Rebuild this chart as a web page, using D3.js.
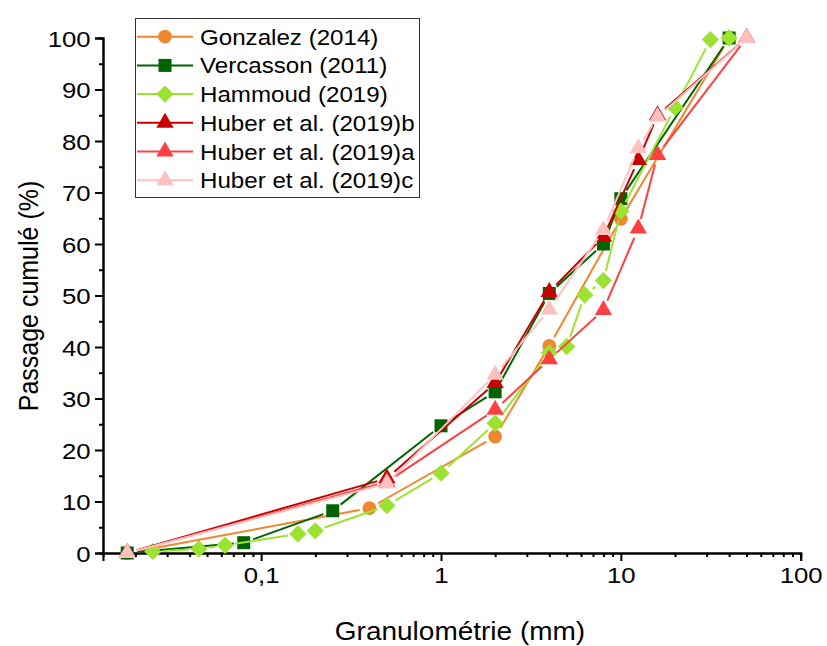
<!DOCTYPE html>
<html>
<head>
<meta charset="utf-8">
<script src="https://cdn.jsdelivr.net/npm/d3@7"></script>
<style>
  html, body { margin: 0; padding: 0; background: #fff; }
  svg { display: block; font-family: "Liberation Sans", Arial, sans-serif; }
</style>
</head>
<body>
<svg id="chart" width="827" height="646"></svg>
<script>
// ---------- data ----------
const seriesNames = ["Gonzalez (2014)", "Vercasson (2011)", "Hammoud (2019)",
  "Huber et al. (2019)b", "Huber et al. (2019)a", "Huber et al. (2019)c"];

const gonzalezX = [0.018, 0.4, 2, 4, 10, 40];
const gonzalezY = [0, 8.7, 22.6, 40.2, 64.9, 100];

const vercassonX = [0.018, 0.08, 0.25, 1, 2, 4, 8, 10, 40];
const vercassonY = [0, 2.0, 8.2, 24.7, 31.3, 50.4, 60.0, 68.8, 100];

const hammoudX = [0.025, 0.045, 0.063, 0.16, 0.2, 0.5, 1, 2, 4, 5, 6.3, 8, 10, 20, 31.5, 40];
const hammoudY = [0.3, 0.8, 1.5, 3.7, 4.3, 9.2, 15.5, 25.2, 38.9, 40.1, 50.1, 52.9, 66.4, 86.5, 99.7, 100];

const huberBX = [0.018, 0.5, 2, 4, 8, 12.5, 16, 50];
const huberBY = [0, 14.5, 33.0, 50.7, 61.4, 76.3, 85.0, 100];

const huberAX = [0.018, 0.5, 2, 4, 8, 12.5, 16, 50];
const huberAY = [0, 13.8, 27.8, 37.6, 47.2, 63.0, 77.3, 100];

const huberCX = [0.018, 0.5, 2, 4, 8, 12.5, 16, 50];
const huberCY = [0, 13.5, 34.6, 47.3, 62.7, 78.6, 84.7, 100];

const seriesColors = ["#F0862E", "#006400", "#9CE331", "#C80000", "#FF4040", "#FFC0C0"];
const seriesSymbols = ["circle", "square", "diamond", "triangle", "triangle", "triangle"];

const xTickValues = [0.1, 1, 10, 100];
const xTickLabels = ["0,1", "1", "10", "100"];
const yTickValues = [0, 10, 20, 30, 40, 50, 60, 70, 80, 90, 100];
const yMinorValues = [5, 15, 25, 35, 45, 55, 65, 75, 85, 95];

const xTitle = "Granulométrie (mm)";
const yTitle = "Passage cumulé (%)";

// ---------- build ----------
const seriesX = [gonzalezX, vercassonX, hammoudX, huberBX, huberAX, huberCX];
const seriesY = [gonzalezY, vercassonY, hammoudY, huberBY, huberAY, huberCY];
const series = seriesNames.map((name, i) => ({
  name, color: seriesColors[i], symbol: seriesSymbols[i],
  points: seriesX[i].map((x, j) => ({ x, y: seriesY[i][j] }))
}));

const svg = d3.select("#chart");
const mLeft = 103, mRight = 800.7, mTop = 38, mBottom = 553;
const SX = 1.12; // horizontal text stretch

const x = d3.scaleLog().domain([0.0132, 100]).range([mLeft, mRight]);
const y = d3.scaleLinear().domain([0, 100]).range([mBottom, mTop]);

// axes
const xMinor = x.ticks().filter(v => !xTickValues.some(t => Math.abs(t - v) / t < 1e-6));
const gx = svg.append("g").attr("transform", `translate(0,${mBottom})`);
gx.call(d3.axisBottom(x).tickValues(xMinor).tickSize(4).tickFormat(""));
gx.append("g").call(d3.axisBottom(x).tickValues(xTickValues).tickSize(8)
  .tickFormat((d, i) => xTickLabels[i]));
gx.selectAll("path.domain").attr("stroke", "#000").attr("stroke-width", 2);
gx.selectAll(".tick line").attr("stroke", "#000").attr("stroke-width", 2);
gx.selectAll(".tick text").attr("fill", "#000").attr("font-size", 23)
  .attr("font-family", "Liberation Sans, Arial, sans-serif")
  .attr("y", 14).attr("transform", `scale(${SX},1)`);

const gy = svg.append("g").attr("transform", `translate(${mLeft},0)`);
gy.call(d3.axisLeft(y).tickValues(yMinorValues).tickSize(4).tickFormat(""));
gy.append("g").call(d3.axisLeft(y).tickValues(yTickValues).tickSize(8).tickFormat(d3.format("d")));
gy.selectAll("path.domain").attr("stroke", "#000").attr("stroke-width", 2);
gy.selectAll(".tick line").attr("stroke", "#000").attr("stroke-width", 2);
gy.selectAll(".tick text").attr("fill", "#000").attr("font-size", 23)
  .attr("font-family", "Liberation Sans, Arial, sans-serif")
  .attr("x", -11).attr("dy", "0.35em").attr("transform", `scale(${SX},1)`);

// titles
svg.append("text").attr("transform", `translate(460,640) scale(${SX},1)`)
  .attr("text-anchor", "middle").attr("font-size", 25).text(xTitle);
svg.append("text").attr("transform", `translate(38,296) rotate(-90) scale(1,${SX})`)
  .attr("text-anchor", "middle").attr("font-size", 25).text(yTitle);

// symbols
function symbolPath(kind) {
  if (kind === "circle") return d3.symbol(d3.symbolCircle, 150)();
  if (kind === "square") return d3.symbol(d3.symbolSquare, 169)();
  if (kind === "diamond") return d3.symbol(d3.symbolSquare, 150)();
  return d3.symbol(d3.symbolTriangle, 130)();
}
function symbolRot(kind) { return kind === "diamond" ? " rotate(45)" : ""; }

const gap = 10;
const plot = svg.append("g");
series.forEach(s => {
  const g = plot.append("g");
  const pts = s.points.map(p => [x(p.x), y(p.y)]);
  for (let i = 0; i < pts.length - 1; i++) {
    const [x0, y0] = pts[i], [x1, y1] = pts[i + 1];
    const dx = x1 - x0, dy = y1 - y0, d = Math.hypot(dx, dy);
    if (d <= 2 * gap) continue;
    const ux = dx / d, uy = dy / d;
    g.append("line")
      .attr("x1", x0 + ux * gap).attr("y1", y0 + uy * gap)
      .attr("x2", x1 - ux * gap).attr("y2", y1 - uy * gap)
      .attr("stroke", s.color).attr("stroke-width", 2);
  }
  g.selectAll("path.mk").data(s.points).join("path").attr("class", "mk")
    .attr("d", symbolPath(s.symbol))
    .attr("transform", d => `translate(${x(d.x)},${y(d.y)})${symbolRot(s.symbol)}`)
    .attr("fill", s.color);
});

// legend
const lg = svg.append("g");
lg.append("rect").attr("x", 135.5).attr("y", 18.5).attr("width", 284).attr("height", 179)
  .attr("fill", "#fff").attr("stroke", "#333").attr("stroke-width", 1);
series.forEach((s, i) => {
  const cy = 36.7 + i * 28.7;
  lg.append("line").attr("x1", 137).attr("x2", 193).attr("y1", cy).attr("y2", cy)
    .attr("stroke", s.color).attr("stroke-width", 2);
  lg.append("path").attr("d", symbolPath(s.symbol))
    .attr("transform", `translate(165,${cy})${symbolRot(s.symbol)}`).attr("fill", s.color);
  lg.append("text").attr("transform", `translate(200,${cy + 8}) scale(${SX * 0.98},1)`)
    .attr("font-size", 22).attr("fill", "#000").text(s.name);
});
</script>
</body>
</html>
